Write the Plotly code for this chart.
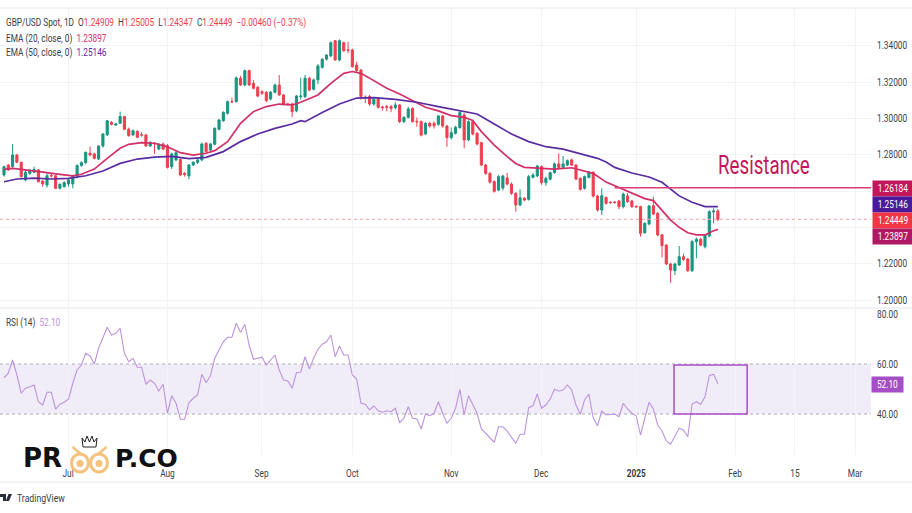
import plotly.graph_objects as go

W, H = 912, 513

opens = [1.2689,1.2744,1.2735,1.2799,1.2759,1.2662,1.2698,1.2704,1.2717,1.2656,
1.2634,1.2686,1.2685,1.2616,1.2625,1.2640,1.2640,1.2684,1.2741,1.2757,
1.2809,1.2805,1.2777,1.2849,1.2910,1.2979,1.2964,1.2974,1.3011,1.2941,
1.2910,1.2930,1.2911,1.2910,1.2849,1.2864,1.2832,1.2860,1.2851,1.2735,
1.2772,1.2775,1.2698,1.2684,1.2744,1.2759,1.2772,1.2864,1.2827,1.2858,
1.2941,1.2988,1.3029,1.3094,1.3093,1.3222,1.3185,1.3264,1.3194,1.3172,
1.3148,1.3145,1.3108,1.3145,1.3185,1.3130,1.3080,1.3080,1.3042,1.3120,
1.3121,1.3222,1.3161,1.3213,1.3282,1.3327,1.3345,1.3429,1.3323,1.3418,
1.3379,1.3378,1.3295,1.3268,1.3118,1.3121,1.3080,1.3108,1.3064,1.3066,
1.3066,1.3060,1.3075,1.2983,1.3007,1.3056,1.2985,1.2983,1.2915,1.2974,
1.2974,1.2968,1.3014,1.2959,1.2895,1.2919,1.2950,1.3020,1.2882,1.2983,
1.2919,1.2867,1.2744,1.2698,1.2652,1.2606,1.2617,1.2673,1.2639,1.2588,
1.2524,1.2561,1.2555,1.2676,1.2684,1.2735,1.2647,1.2666,1.2702,1.2750,
1.2731,1.2744,1.2772,1.2744,1.2671,1.2616,1.2676,1.2704,1.2573,1.2496,
1.2566,1.2539,1.2540,1.2546,1.2515,1.2574,1.2546,1.2516,1.2515,1.2371,
1.2419,1.2520,1.2478,1.2359,1.2303,1.2199,1.2162,1.2193,1.2239,1.2226,
1.2162,1.2322,1.2335,1.2294,1.2353,1.2485,1.24909]
highs = [1.2740,1.2750,1.2860,1.2805,1.2762,1.2715,1.2722,1.2735,1.2722,1.2660,
1.2700,1.2695,1.2690,1.2642,1.2655,1.2672,1.2690,1.2748,1.2765,1.2818,
1.2846,1.2812,1.2852,1.2920,1.2992,1.2986,1.2978,1.3038,1.3015,1.2950,
1.2940,1.2935,1.2925,1.2915,1.2875,1.2870,1.2865,1.2868,1.2860,1.2812,
1.2822,1.2780,1.2705,1.2750,1.2765,1.2780,1.2868,1.2870,1.2866,1.2952,
1.2998,1.3040,1.3100,1.3115,1.3232,1.3235,1.3270,1.3270,1.3212,1.3180,
1.3155,1.3150,1.3152,1.3192,1.3240,1.3136,1.3086,1.3088,1.3130,1.3225,
1.3240,1.3230,1.3220,1.3300,1.3332,1.3355,1.3425,1.3433,1.3436,1.3424,
1.3424,1.3385,1.3312,1.3272,1.3128,1.3130,1.3115,1.3115,1.3070,1.3075,
1.3075,1.3090,1.3080,1.3012,1.3065,1.3062,1.3006,1.2990,1.2980,1.2982,
1.2985,1.3020,1.3020,1.2965,1.2950,1.2960,1.3045,1.3030,1.2990,1.2990,
1.2925,1.2872,1.2750,1.2705,1.2660,1.2690,1.2690,1.2700,1.2648,1.2595,
1.2610,1.2568,1.2690,1.2700,1.2745,1.2742,1.2680,1.2708,1.2758,1.2808,
1.2794,1.2775,1.2780,1.2750,1.2676,1.2686,1.2712,1.2710,1.2580,1.2616,
1.2570,1.2545,1.2546,1.2552,1.2592,1.2590,1.2552,1.2522,1.2520,1.2428,
1.2525,1.2570,1.2485,1.2365,1.2308,1.2205,1.2205,1.2298,1.2255,1.2232,
1.2330,1.2345,1.2342,1.2365,1.2495,1.2506,1.25005]
lows = [1.2680,1.2712,1.2730,1.2755,1.2675,1.2655,1.2690,1.2700,1.2648,1.2625,
1.2620,1.2675,1.2612,1.2610,1.2620,1.2625,1.2616,1.2670,1.2735,1.2750,
1.2795,1.2775,1.2772,1.2840,1.2905,1.2962,1.2958,1.2970,1.2936,1.2900,
1.2905,1.2892,1.2900,1.2845,1.2843,1.2805,1.2825,1.2825,1.2725,1.2722,
1.2765,1.2682,1.2680,1.2665,1.2738,1.2750,1.2765,1.2812,1.2820,1.2852,
1.2935,1.2982,1.3022,1.3085,1.3088,1.3180,1.3178,1.3180,1.3160,1.3118,
1.3130,1.3090,1.3100,1.3138,1.3125,1.3072,1.3070,1.3007,1.3035,1.3105,
1.3112,1.3150,1.3155,1.3190,1.3275,1.3320,1.3338,1.3318,1.3315,1.3368,
1.3360,1.3280,1.3255,1.3105,1.3085,1.3070,1.3072,1.3055,1.3045,1.3040,
1.3035,1.3050,1.2975,1.2975,1.3000,1.2978,1.2955,1.2902,1.2908,1.2950,
1.2945,1.2960,1.2950,1.2845,1.2885,1.2912,1.2945,1.2836,1.2875,1.2908,
1.2852,1.2738,1.2690,1.2642,1.2592,1.2600,1.2605,1.2632,1.2580,1.2487,
1.2518,1.2545,1.2548,1.2670,1.2678,1.2635,1.2630,1.2660,1.2696,1.2724,
1.2722,1.2738,1.2738,1.2660,1.2603,1.2608,1.2670,1.2565,1.2488,1.2469,
1.2525,1.2530,1.2530,1.2500,1.2505,1.2535,1.2508,1.2508,1.2349,1.2365,
1.2412,1.2468,1.2352,1.2235,1.2193,1.2096,1.2138,1.2188,1.2216,1.2155,
1.2155,1.2230,1.2296,1.2285,1.2346,1.2423,1.24347]
closes = [1.2735,1.2717,1.2799,1.2759,1.2680,1.2704,1.2713,1.2720,1.2652,1.2640,
1.2685,1.2684,1.2616,1.2638,1.2647,1.2662,1.2684,1.2741,1.2757,1.2814,
1.2799,1.2781,1.2849,1.2915,1.2988,1.2968,1.2970,1.3011,1.2941,1.2906,
1.2933,1.2897,1.2909,1.2849,1.2869,1.2862,1.2858,1.2832,1.2731,1.2805,
1.2812,1.2689,1.2692,1.2744,1.2759,1.2772,1.2860,1.2818,1.2860,1.2946,
1.2992,1.3034,1.3093,1.3092,1.3224,1.3185,1.3264,1.3185,1.3167,1.3124,
1.3140,1.3099,1.3145,1.3185,1.3130,1.3079,1.3078,1.3038,1.3124,1.3124,
1.3222,1.3157,1.3213,1.3290,1.3327,1.3350,1.3418,1.3323,1.3429,1.3374,
1.3377,1.3286,1.3264,1.3121,1.3115,1.3080,1.3106,1.3062,1.3060,1.3062,
1.3056,1.3075,1.2983,1.3007,1.3053,1.2983,1.2982,1.2909,1.2974,1.2959,
1.2960,1.3014,1.2959,1.2895,1.2922,1.2952,1.3033,1.2882,1.2983,1.2915,
1.2860,1.2744,1.2698,1.2650,1.2599,1.2680,1.2684,1.2639,1.2588,1.2524,
1.2564,1.2551,1.2680,1.2689,1.2739,1.2647,1.2671,1.2702,1.2750,1.2731,
1.2750,1.2768,1.2744,1.2667,1.2610,1.2680,1.2704,1.2573,1.2496,1.2575,
1.2533,1.2537,1.2538,1.2515,1.2584,1.2542,1.2515,1.2514,1.2368,1.2423,
1.2518,1.2474,1.2359,1.2300,1.2199,1.2165,1.2199,1.2239,1.2224,1.2162,
1.2322,1.2335,1.2303,1.2359,1.2487,1.2491,1.24449]

ema20_bars = [0,2,4,7,10,13,16,18,21,24,27,29,32,35,38,41,44,47,49,52,55,58,61,64,67,69,
70,73,76,79,81,83,86,89,92,95,98,101,104,107,109,111,114,117,119,121,124,128,132,134,137,140,
142,144,147,149,151,153,155,157,159,161,163,165,166]
ema20_vals = [1.2720,1.2726,1.2720,1.2709,1.2702,1.2693,1.2684,1.2693,1.2722,1.2781,1.2836,1.2858,1.2867,1.2864,1.2845,1.2812,1.2799,1.2809,1.2823,1.2873,1.2974,1.3038,1.3066,1.3080,1.3075,1.3090,
1.3099,1.3130,1.3194,1.3249,1.3259,1.3249,1.3209,1.3167,1.3135,1.3099,1.3062,1.3042,1.3016,1.3007,1.2989,1.2928,1.2854,1.2790,1.2753,1.2731,1.2728,1.2722,1.2729,1.2717,1.2698,1.2650,
1.2629,1.2610,1.2579,1.2559,1.2548,1.2496,1.2441,1.2401,1.2371,1.2359,1.2359,1.2382,1.23897]

ema50_bars = [0,3,7,11,15,19,23,27,31,35,39,43,47,51,55,59,63,67,69,
70,74,78,82,86,91,96,101,106,110,114,118,122,126,130,134,138,140,
142,146,150,153,155,157,160,163,166]
ema50_vals = [1.2652,1.2667,1.2672,1.2667,1.2671,1.2685,1.2711,1.2753,1.2777,1.2788,1.2792,1.2779,1.2786,1.2818,1.2873,1.2915,1.2946,1.2970,1.2988,
1.2983,1.3034,1.3080,1.3113,1.3115,1.3106,1.3090,1.3066,1.3045,1.3025,1.2970,1.2915,1.2873,1.2845,1.2832,1.2808,1.2781,1.2761,
1.2731,1.2700,1.2678,1.2649,1.2610,1.2574,1.2539,1.2515,1.25146]

rsi_vals = [54.5,56.3,61.6,55.6,48.3,50.3,50.9,51.6,44.9,43.6,
48.7,48.7,41.9,43.9,44.7,45.9,52.3,57.6,59.6,64.3,
63.2,60.0,66.3,70.9,74.7,71.6,72.3,74.3,64.3,60.9,
62.3,58.7,58.7,51.9,53.6,52.3,49.2,51.9,40.3,47.3,
44.3,37.9,37.9,44.5,46.3,47.6,55.9,52.5,55.3,62.3,
65.6,68.9,70.7,70.7,76.3,72.7,75.9,67.6,61.9,62.3,
62.7,59.6,61.6,63.6,57.6,53.6,53.2,50.3,56.5,56.7,
62.9,58.0,62.3,65.9,67.9,68.9,71.6,62.9,67.2,63.6,
63.6,55.6,54.0,44.3,43.9,41.6,43.3,41.3,40.7,41.3,
40.9,42.3,36.5,38.3,42.9,38.3,38.0,34.0,40.0,39.3,
40.3,44.9,40.3,36.3,38.3,42.3,49.9,39.6,47.3,43.9,
40.3,34.0,32.3,30.3,28.7,34.9,34.9,33.2,30.5,28.3,
31.9,31.9,42.5,43.3,48.0,42.3,43.6,46.0,49.9,49.2,
49.6,51.6,49.6,43.6,39.9,45.6,48.0,38.5,35.3,41.2,
39.6,39.9,40.0,38.9,44.3,42.0,40.3,39.3,31.6,38.3,
44.7,42.0,35.6,33.2,29.2,27.9,30.9,34.3,33.6,30.9,
44.0,44.9,43.9,46.9,55.3,55.9,52.1]

tick_bars = [14.9,38,59.9,81,104,124.9,147,170.0,183.9,197.9]
tick_labels = ["Jul","Aug","Sep","Oct","Nov","Dec","<b>2025</b>","Feb","15","Mar"]
price_ticks = [1.20,1.22,1.24,1.26,1.28,1.30,1.32,1.34]
price_labels = ["1.20000","1.22000","","","1.28000","1.30000","1.32000","1.34000"]
rsi_ticks = [40,60,80]
rsi_labels = ["40.00","60.00","80.00"]
resistance_level = 1.26184
resistance_start_bar = 142
last_close = 1.24449
box_bars = [155.8,172.8]
box_rsi = [40,59.6]
band_rsi = [40,60]

bars = list(range(len(closes)))
INK = "#3a3e49"
GREEN = "#17967f"; RED = "#ee3f50"; CRIMSON = "#d12f68"; VIOLET = "#5a2ca0"; ORCHID = "#bc94de"; BOX = "#a64dc8"
FONT = "Roboto"

def px(x): return x / W
def py(y): return 1 - y / H

fig = go.Figure()
fig.add_trace(go.Candlestick(x=bars, open=opens, high=highs, low=lows, close=closes, xaxis="x", yaxis="y",
    increasing=dict(line=dict(color=GREEN, width=1), fillcolor=GREEN),
    decreasing=dict(line=dict(color=RED, width=1), fillcolor=RED),
    whiskerwidth=0, hoverinfo="skip", showlegend=False))
fig.add_trace(go.Scatter(x=ema20_bars, y=ema20_vals, mode="lines", line=dict(color=CRIMSON, width=1.7), yaxis="y", hoverinfo="skip", showlegend=False))
fig.add_trace(go.Scatter(x=ema50_bars, y=ema50_vals, mode="lines", line=dict(color=VIOLET, width=1.7), yaxis="y", hoverinfo="skip", showlegend=False))
fig.add_trace(go.Scatter(x=[resistance_start_bar, 201.6], y=[resistance_level]*2, mode="lines", line=dict(color="#dc3a78", width=1.5), yaxis="y", hoverinfo="skip", showlegend=False))
fig.add_trace(go.Scatter(x=bars, y=rsi_vals, mode="lines", line=dict(color=ORCHID, width=1.1), yaxis="y2", hoverinfo="skip", showlegend=False))

shapes = []
for y in (8, 308, 482):
    shapes.append(dict(type="line", xref="paper", yref="paper", x0=0, x1=1, y0=py(y), y1=py(y), line=dict(color="#e6e8ee", width=1.2), layer="below"))
shapes.append(dict(type="line", xref="paper", yref="y", x0=0, x1=px(871), y0=last_close, y1=last_close, line=dict(color="#f6a0a8", width=1, dash="dot"), layer="above"))
shapes.append(dict(type="rect", xref="paper", yref="y2", x0=0, x1=px(871), y0=band_rsi[0], y1=band_rsi[1], fillcolor="rgba(126,87,194,0.11)", line=dict(width=0), layer="below"))
for v in band_rsi:
    shapes.append(dict(type="line", xref="paper", yref="y2", x0=0, x1=px(871), y0=v, y1=v, line=dict(color="#aeacb6", width=1, dash="3px,3px"), layer="below"))
shapes.append(dict(type="rect", xref="x", yref="y2", x0=box_bars[0], x1=box_bars[1], y0=box_rsi[0], y1=box_rsi[1], line=dict(color=BOX, width=1.5), layer="above"))

# watermark emblem (decorative, page coordinates)
GOLD = "#f4c27c"
for cx in (80, 99):
    shapes.append(dict(type="circle", xref="paper", yref="paper", x0=px(cx-8.5), x1=px(cx+8.5), y0=py(472), y1=py(454), line=dict(color=GOLD, width=3), layer="above"))
    shapes.append(dict(type="circle", xref="paper", yref="paper", x0=px(cx-3.5), x1=px(cx+3.5), y0=py(467), y1=py(460), fillcolor=GOLD, line=dict(width=0), layer="above"))
for a, b in (((72.5,447),(82,455)), ((106.5,447),(97,455))):
    shapes.append(dict(type="line", xref="paper", yref="paper", x0=px(a[0]), x1=px(b[0]), y0=py(a[1]), y1=py(b[1]), line=dict(color=GOLD, width=2.5), layer="above"))
crown = [(83,447),(82,438),(85,442),(87,436),(89.5,442),(92,436),(94,442),(97,438),(96,447)]
shapes.append(dict(type="path", xref="paper", yref="paper", layer="above",
    path="M " + " L ".join(f"{px(a):.5f},{py(b):.5f}" for a, b in crown) + " Z", line=dict(color="#222", width=1)))
# chart-service mark
tv = [(0,494),(6,494),(6,501),(3,501),(3,497),(0,497)]
shapes.append(dict(type="path", xref="paper", yref="paper", layer="above",
    path="M " + " L ".join(f"{px(a):.5f},{py(b):.5f}" for a, b in tv) + " Z", fillcolor="#2a2e39", line=dict(width=0)))
tv2 = [(8.5,494),(12,494),(9,501),(5.8,501)]
shapes.append(dict(type="path", xref="paper", yref="paper", layer="above",
    path="M " + " L ".join(f"{px(a):.5f},{py(b):.5f}" for a, b in tv2) + " Z", fillcolor="#2a2e39", line=dict(width=0)))

def note(x, y, text, size=10, color=INK, xanchor="left", **kw):
    fam = kw.pop("family", FONT)
    kw.setdefault("align", "left")
    return dict(xref="paper", yref="paper", x=px(x), y=py(y), text=text, showarrow=False, xanchor=xanchor, yanchor="middle",
                font=dict(family=fam, size=size, color=color), **kw)

def tag(y, text, bg, width=40, x=871.5):
    return note(x, y, text, size=10, color="white", bgcolor=bg, width=width, height=15, borderpad=0, align="center")

def val(s, c): return f'<span style="color:{c}">{s}</span>'
header = ("GBP/USD Spot, 1D&nbsp;&nbsp;O" + val("1.24909", RED) + "&nbsp;&nbsp;H" + val("1.25005", RED) + "&nbsp;&nbsp;L" + val("1.24347", RED)
          + "&nbsp;&nbsp;C" + val("1.24449", RED) + "&nbsp;&nbsp;" + val("\u22120.00460 (\u22120.37%)", RED))

annotations = [
    note(4, 23, header, size=10),
    note(4, 38.5, "EMA (20, close, 0)&nbsp;&nbsp;" + val("1.23897", CRIMSON), size=10),
    note(4, 53.5, "EMA (50, close, 0)&nbsp;&nbsp;" + val("1.25146", VIOLET), size=10),
    note(4, 323, "RSI (14)&nbsp;&nbsp;" + val("52.10", ORCHID), size=10),
    note(716, 165, "Resistance", size=25, color="#c2185b"),
    tag(188, "1.26184", "#c2185b"),
    tag(204, "1.25146", "#4a1a9a"),
    tag(220, "1.24449", "#f23645"),
    tag(236, "1.23897", "#b01a64"),
    tag(384, "52.10", "#a64dc8", width=31, x=871),
    note(21, 458, "<b>PR</b>", size=26, color="#111111", family="DejaVu Sans, sans-serif"),
    note(113, 458, "<b>P.CO</b>", size=25, color="#111111", family="DejaVu Sans, sans-serif"),
    note(15, 498, "TradingView", size=10.5, color="#3a3e49"),
]

GRID = "#f1f3f7"
tick_common = dict(zeroline=False, showline=False, ticks="outside", tickcolor="rgba(0,0,0,0)", automargin=False, tickfont=dict(family=FONT, size=10, color=INK))
fig.update_layout(
    width=W, height=H, margin=dict(l=0, r=0, t=0, b=0), paper_bgcolor="white", plot_bgcolor="white", showlegend=False,
    font=dict(family=FONT, size=10, color=INK), shapes=shapes, annotations=annotations,
    xaxis=dict(domain=[0, px(871)], range=[-0.93, 201.6], anchor="y2", tickmode="array", tickvals=tick_bars, ticktext=tick_labels,
               showgrid=True, gridcolor=GRID, gridwidth=1, ticklen=9, rangeslider=dict(visible=False), **tick_common),
    yaxis=dict(domain=[py(307), py(8)], range=[1.1962, 1.3609], side="right", anchor="x", tickmode="array", tickvals=price_ticks, ticktext=price_labels,
               showgrid=True, gridcolor=GRID, ticklen=3, **tick_common),
    yaxis2=dict(domain=[py(455), py(309)], range=[23.6, 82], side="right", anchor="x", tickmode="array", tickvals=rsi_ticks, ticktext=rsi_labels,
                showgrid=False, ticklen=3, **tick_common),
)
# the reference's typeface is narrower than any installed one: condense the real text horizontally
condense = """document.body.style.margin='0';
document.querySelectorAll('svg.main-svg text').forEach(function(t){
  var s=t.textContent; if(!s||s==='PR'||s==='P.CO') return;
  var f=(s==='Resistance')?0.75:0.83;
  var ax=parseFloat(t.getAttribute('x'))||0;
  var old=t.getAttribute('transform')||'';
  t.setAttribute('transform',old+' translate('+ax+' 0) scale('+f+' 1) translate('+(-ax)+' 0)');
});"""
fig.write_html("out.html", config={"displayModeBar": False}, post_script=condense)
